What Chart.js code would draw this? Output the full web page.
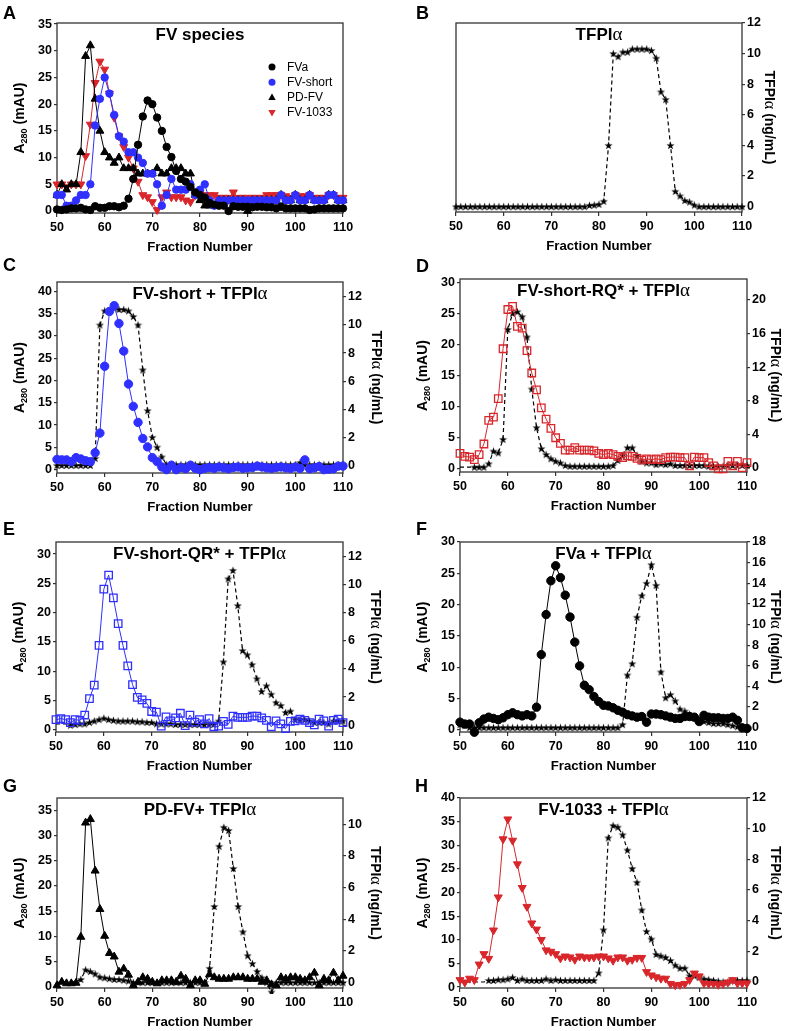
<!DOCTYPE html>
<html>
<head>
<meta charset="utf-8">
<script src="https://cdn.jsdelivr.net/npm/chart.js@4.4.1/dist/chart.umd.min.js"></script>
<style>
  html, body { margin: 0; padding: 0; background: #fff; }
  body { width: 788px; height: 1031px; position: relative; overflow: hidden; }
  .letter { position: absolute; z-index: 10; font: bold 18px 'Liberation Sans', Arial, sans-serif; line-height: 18px; color: #000; }
</style>
</head>
<body>
<div class="letter" style="left:3px;top:4px">A</div>
<div class="letter" style="left:416px;top:4px">B</div>
<div class="letter" style="left:3px;top:256px">C</div>
<div class="letter" style="left:416px;top:257px">D</div>
<div class="letter" style="left:3px;top:520px">E</div>
<div class="letter" style="left:416px;top:520px">F</div>
<div class="letter" style="left:3px;top:777px">G</div>
<div class="letter" style="left:415px;top:777px">H</div>
<script>
// fraction numbers (x categories)
const fractions = [50,51,52,53,54,55,56,57,58,59,60,61,62,63,64,65,66,67,68,69,
  70,71,72,73,74,75,76,77,78,79,80,81,82,83,84,85,86,87,88,89,
  90,91,92,93,94,95,96,97,98,99,100,101,102,103,104,105,106,107,108,109,110];
const xTicks = [50, 60, 70, 80, 90, 100, 110];
const yTicks30 = [0, 5, 10, 15, 20, 25, 30];
const yTicks35 = [0, 5, 10, 15, 20, 25, 30, 35];
const yTicks40 = [0, 5, 10, 15, 20, 25, 30, 35, 40];
const rTicks10 = [0, 2, 4, 6, 8, 10];
const rTicks12 = [0, 2, 4, 6, 8, 10, 12];
const rTicks18 = [0, 2, 4, 6, 8, 10, 12, 14, 16, 18];
const rTicks20 = [0, 4, 8, 12, 16, 20];
const legendLabels = ['FVa', 'FV-short', 'PD-FV', 'FV-1033'];

// A - FV species (A280, mAU)
const aFVa = [0.3,0.2,0.3,0.5,0.5,0.6,0.3,0.2,0.9,0.6,
  0.6,0.9,0.9,0.7,1.0,2.3,6.0,12.4,17.7,20.7,
  20.0,17.5,15.0,12.0,10.1,7.5,6.0,5.5,4.5,3.5,
  3.0,2.5,1.5,1.2,1.0,1.0,0.0,0.9,0.8,0.8,
  0.8,0.7,0.8,0.8,0.7,0.7,0.5,0.8,0.5,0.5,
  0.5,0.5,0.5,0.2,0.3,0.5,0.5,0.5,0.5,0.5, 0.5];
const aShort = [3,3,1,1,2,3,3,5,16,21,
  25,22,18,14,13,11,11,10,9,7,
  7,5,1,3,6,4,4,4,5,3,
  4,5,2,1,2,2,2,2,2,2,
  2,2,2,2,2,2,2,3,2,2,
  3,2,2,3,2,2,2,3,3,2, 2];
const aPD = [3,5,4,5,5,11,29,31,21,15,
  11,10,9,10,8,8,8,7,7,7,
  7,8,7,7,8,8,8,7,7,3,
  2,1,1,1,2,2,2,2,2,2,
  0,2,2,2,2,2,2,3,2,2,
  3,2,2,3,2,2,2,3,3,2, 2];
const a1033 = [5,5,4.5,5,5,5,10.3,16.2,24,28,
  26.5,22,17.5,14,12,10,8,5.5,3,2.6,
  1.7,0.2,2.6,3.5,2.6,2.6,2.6,2,1.7,3,
  3.4,3,3,3,2.5,2.5,2.5,3.5,2.5,2.5,
  2.5,2.5,2.5,2.5,3,3,3,3,2.8,2.5,
  3,2.8,2.8,3,2.5,2.5,2.5,3,3,2.5, 2.5];

// B - TFPIalpha alone (ng/mL)
const bTFPI = [0,0,0,0,0,0,0,0,0,0,
  0,0,0,0,0,0,0,0,0,0,
  0,0,0,0,0,0,0,0,0.08,0.1,
  0.15,0.35,4.0,10.0,9.8,10.1,10.1,10.3,10.3,10.3,
  10.3,10.2,9.7,7.5,7.0,4.0,1.0,0.7,0.4,0.3,
  0.1,0,0,0,0,0,0,0,0,0, 0];

// C - FV-short + TFPIalpha
const cShort = [2.3,2.2,2.2,1.8,2.7,2.4,2.0,1.8,3.8,8.2,
  23.2,35.5,36.8,32.8,26.6,19.2,14.2,10.6,7.0,5.1,
  2.7,1.8,0.6,0.0,1.0,0.0,0.5,0.2,1.0,0.3,
  0.0,0.3,0.5,0.3,0.6,0.4,0.2,0.5,0.6,0.3,
  0.4,0.5,0.8,0.6,0.4,0.3,0.5,0.6,0.4,0.3,
  0.6,0.3,2.2,0.2,0.4,0.7,0.0,0.1,0.2,0.8, 0.8];
const cTFPI = [0,0,0,0,0,0,0,0,0.5,10.0,
  11.0,11.0,11.2,11.1,11.1,11.0,10.6,10.0,6.8,3.9,
  2.0,1.3,0.6,0.05,0.05,0.05,0.05,0.05,0.05,0.05,
  0.05,0.05,0.05,0.05,0.05,0.05,0.05,0.05,0.05,0.05,
  0.05,0.05,0.05,0.05,0.05,0.05,0.05,0.05,0.05,0.05,
  0.05,0.2,0.05,0.05,0.05,0.05,0.05,0.05,0.05,0.05, 0.05];

// D - FV-short-RQ* + TFPIalpha
const dRQ = [2.5,2.0,1.9,1.5,2.3,4.0,7.8,8.3,11.3,19.3,
  25.6,26.1,22.9,22.6,19.0,15.4,12.7,9.8,8.0,6.5,
  5.0,4.1,3.0,3.0,3.4,3.0,3.0,3.0,2.9,2.5,
  2.3,2.5,2.3,2.0,1.8,2.1,2.0,1.7,1.4,1.6,
  1.5,1.6,1.5,1.8,1.9,1.9,1.8,1.8,0.5,1.9,
  1.8,1.8,1.0,0.5,0.0,0.0,1.2,0.5,1.2,0.2, 1.0];
const dTFPI = [0.1,0.1,0.1,0.1,0.1,0.1,0.5,2.0,1.8,3.4,
  16.5,18.4,18.6,18.0,15.6,9.4,4.8,2.3,1.6,1.1,
  0.8,0.6,0.3,0.2,0.2,0.2,0.2,0.2,0.2,0.2,
  0.2,0.2,0.3,0.9,1.5,2.4,2.4,1.5,0.8,0.6,
  0.6,0.4,0.5,0.4,0.5,0.3,0.3,0.3,0.3,0.3,
  0.3,0.3,0.2,0.2,0.2,0.2,0.3,0.3,0.3,0.3, 0.3];

// E - FV-short-QR* + TFPIalpha
const eQR = [1.7,1.9,1.7,1.2,1.7,1.6,2.5,5.3,7.6,14.4,
  24.0,26.4,22.5,18.1,14.4,10.9,7.7,5.5,5.1,4.5,
  3.1,3.0,0.6,2.2,1.5,2.0,2.8,0.7,2.5,1.3,
  1.7,1.0,1.9,0.5,0.6,1.4,0.9,2.3,2.1,2.1,
  2.1,2.3,2.3,2.0,1.6,0.5,1.5,1.0,0.2,1.4,
  1.5,1.8,1.6,1.2,0.8,1.8,1.5,0.6,1.6,1.8, 1.2];
const eTFPI = [0.1,0.1,0.1,0.0,0.05,0.1,0.1,0.2,0.3,0.4,
  0.5,0.4,0.35,0.3,0.3,0.3,0.3,0.25,0.25,0.2,
  0.2,0.1,0.1,0.1,0.1,0.05,0.05,0.05,0.05,0.05,
  0.05,0.05,0.05,0.05,0.3,4.5,10.4,11.0,8.5,5.3,
  5.0,4.3,3.3,2.4,2.8,2.2,1.6,1.4,0.9,1.0,
  0.4,0.4,0.4,0.3,0.2,0.2,0.2,0.1,0.3,0.3, 0.3];

// F - FVa + TFPIalpha
const fFVa = [1.2,0.9,0.9,-0.4,1.1,1.7,2.0,1.8,1.6,1.9,
  2.4,2.7,2.4,2.2,2.4,2.2,3.6,12.0,18.4,23.8,
  26.2,24.3,21.5,18.0,14.0,10.2,7.1,6.4,5.3,4.5,
  3.9,3.8,3.5,3.1,2.8,2.4,2.2,2.0,2.1,1.2,
  2.5,2.5,2.4,2.2,2.0,1.8,1.8,2.1,2.1,2.0,
  1.3,2.3,2.0,1.9,1.9,1.8,1.8,2.0,1.5,0.3, 0.2];
const fTFPI = [0.3,0.2,0,0,0,0,0,0,0,0,
  0,0,0,0,0,0,0,0,0,0,
  0,0,0,0,0,0,0,0,0,0,
  0,0,0,0,0.3,5.1,6.2,10.7,12.8,14.0,
  15.8,13.8,5.4,2.9,3.2,2.6,1.8,1.6,1.3,1.0,
  0.8,0.6,0.5,0.4,0.4,0.4,0.3,0.2,0.1,0, 0];

// G - PD-FV + TFPIalpha
const gPD = [0.3,1.0,0.7,0.7,0.8,9.9,32.5,33.2,23.0,15.4,
  10.1,6.7,6.0,3.0,3.6,2.4,0.3,1.0,1.9,1.6,
  1.0,0.7,1.3,1.3,1.3,1.0,2.2,1.6,0.3,1.3,
  1.3,0.6,2.5,1.9,1.6,1.6,1.6,1.9,1.9,1.9,
  1.6,1.6,1.6,1.0,1.3,0.5,0.3,1.9,1.6,1.9,
  1.9,1.6,1.3,1.9,2.8,0.3,1.6,1.3,2.8,1.3, 2.2];
const gTFPI = [0,0.05,0.05,0.05,0.05,0.2,0.8,0.7,0.55,0.35,
  0.3,0.25,0.2,0.2,0.15,0.1,0,0,0,0,
  0,0,0,0,0,0,0,0,0,0,
  0,0,0.9,4.8,8.6,9.8,9.6,7.2,4.8,3.2,
  1.7,1.2,0.7,0.3,0,-0.6,0,0,0,0,
  0,0,0,0,0,0,0,0,0,0, 0];

// H - FV-1033 + TFPIalpha
const h1033 = [1.5,1.0,1.8,1.5,4.8,7.0,6.0,12.0,19.0,31.3,
  35.5,31.0,26.0,21.0,17.0,13.5,12.2,10.0,7.8,7.5,
  7.0,6.1,6.5,6.3,5.8,6.5,6.3,6.3,6.3,6.5,
  6.5,6.1,5.6,6.3,6.3,5.6,5.8,6.2,6.2,3.2,
  2.5,2.1,1.8,1.8,0.7,0.4,0.5,0.7,1.5,2.9,
  2.3,0.8,0.7,0.7,0.5,0.7,1.0,1.5,0.8,0.8, 0.8];
const hTFPI = [0,0,0,0,0,0,0.1,0.1,0.15,0.15,
  0.2,0.3,0.1,0.2,0.1,0.1,0.1,0.1,0.2,0.1,
  0.15,0.1,0.1,0.1,0.1,0.1,0.1,0.1,0.1,0.6,
  3.4,9.4,10.2,10.1,9.6,8.6,7.4,6.5,4.7,3.3,
  2.8,1.8,1.7,1.6,1.4,1.1,0.9,0.9,0.4,0.4,
  0.3,0.2,0.15,0.1,0.05,0,0,0.1,0.1,0.1, 0.1];

const SANS = "'Liberation Sans', Arial, sans-serif";
const SERIF = "'Liberation Serif', 'DejaVu Serif', serif";
const TICK_FONT = { family: SANS, size: 12.5, weight: 'bold' };
const BLUE = '#2f2fff', RED = '#d8262b', INK = '#333';
const bold = s => `bold ${s}px ${SANS}`;
const greek = s => `${s}px ${SERIF}`;

function tfpiText(size) { return [{ t: 'TFPI', f: bold(size) }, { t: 'α', f: greek(size + 2) }]; }
function title(prefix) { return [{ t: prefix + 'TFPI', f: bold(17) }, { t: 'α', f: greek(19) }]; }
const yLeftTitle = [{ t: 'A', f: bold(14) }, { t: '280', f: bold(9), dy: 3 }, { t: ' (mAU)', f: bold(14) }];
const yRightTitle = [...tfpiText(14), { t: ' (ng/mL)', f: bold(14) }];

// filled five point star used for the TFPI markers
const STAR = (function () {
  const c = document.createElement('canvas');
  c.width = 9; c.height = 9;
  const g = c.getContext('2d');
  g.beginPath();
  for (let i = 0; i < 10; i++) {
    const r = i % 2 ? 1.7 : 4.3;
    const ang = -Math.PI / 2 + i * Math.PI / 5;
    g.lineTo(4.5 + r * Math.cos(ang), 4.8 + r * Math.sin(ang));
  }
  g.closePath();
  g.fillStyle = '#000';
  g.fill();
  return c;
})();

function drawRich(ctx, parts, x, y, rot) {
  ctx.save();
  ctx.translate(x, y);
  ctx.rotate(rot);
  ctx.fillStyle = '#000';
  ctx.textBaseline = 'alphabetic';
  ctx.textAlign = 'left';
  let w = 0;
  parts.forEach(p => { ctx.font = p.f; w += ctx.measureText(p.t).width; });
  let cx = -w / 2;
  parts.forEach(p => {
    ctx.font = p.f;
    ctx.fillText(p.t, cx, p.dy || 0);
    cx += ctx.measureText(p.t).width;
  });
  ctx.restore();
}

function marker(ctx, kind, x, y, color) {
  ctx.fillStyle = color;
  ctx.beginPath();
  if (kind === 'circle') ctx.arc(x, y, 3.5, 0, Math.PI * 2);
  else if (kind === 'tri') { ctx.moveTo(x, y - 4); ctx.lineTo(x + 3.7, y + 2.5); ctx.lineTo(x - 3.7, y + 2.5); }
  else { ctx.moveTo(x, y + 4); ctx.lineTo(x + 3.7, y - 2.5); ctx.lineTo(x - 3.7, y - 2.5); }
  ctx.closePath();
  ctx.fill();
}

const info = new Map();

const framePlugin = {
  id: 'frame',
  beforeDatasetsDraw(chart) {
    const { ctx, chartArea: a } = chart;
    ctx.save();
    ctx.strokeStyle = INK;
    ctx.lineWidth = 1.3;
    ctx.strokeRect(a.left, a.top, a.right - a.left, a.bottom - a.top);
    ctx.restore();
  },
  afterDraw(chart) {
    const p = info.get(chart.canvas);
    const { ctx, chartArea: a } = chart;
    const cx = (a.left + a.right) / 2, cy = (a.top + a.bottom) / 2;
    drawRich(ctx, p.title, cx, a.top + 17, 0);
    drawRich(ctx, [{ t: 'Fraction Number', f: bold(13.2) }], cx, a.bottom + 38, 0);
    if (p.yL) drawRich(ctx, yLeftTitle, a.left - 33, cy, -Math.PI / 2);
    if (p.yR) drawRich(ctx, yRightTitle, a.right + p.rOff, cy, Math.PI / 2);
    if (p.legend) {
      const kinds = [['circle', '#000'], ['circle', BLUE], ['tri', '#000'], ['tridown', RED]];
      ctx.save();
      ctx.font = `12px ${SANS}`;
      ctx.textBaseline = 'middle';
      legendLabels.forEach((lab, i) => {
        const y = a.top + 44 + i * 15.2;
        marker(ctx, kinds[i][0], a.left + 215, y, kinds[i][1]);
        ctx.fillStyle = '#000';
        ctx.fillText(lab, a.left + 230, y + 0.5);
      });
      ctx.restore();
    }
  }
};

function fv(data, color, kind) {
  const d = {
    data, yAxisID: 'y', borderColor: color, borderWidth: 1, tension: 0, fill: false, clip: 6,
    pointBackgroundColor: color, pointBorderColor: color, pointBorderWidth: 1
  };
  if (kind === 'circle') Object.assign(d, { pointStyle: 'circle', pointRadius: 3.7 });
  if (kind === 'bigcircle') Object.assign(d, { pointStyle: 'circle', pointRadius: 4.2 });
  if (kind === 'tri') Object.assign(d, { pointStyle: 'triangle', pointRadius: 4.6 });
  if (kind === 'tridown') Object.assign(d, { pointStyle: 'triangle', pointRadius: 4.6, pointRotation: 180 });
  if (kind === 'square') Object.assign(d, { pointStyle: 'rect', pointRadius: 5.3, pointBackgroundColor: 'rgba(255,255,255,0)', pointBorderWidth: 1.3 });
  return d;
}

// dashed TFPI trace; markers only from the fraction where the stars begin
function tfpi(data, firstStar) {
  const from = firstStar || 50;
  return {
    data, yAxisID: 'y2', borderColor: '#000', borderWidth: 1.2, borderDash: [4, 3], tension: 0, fill: false, clip: 6,
    pointStyle: STAR,
    pointRadius: ctx => (fractions[ctx.dataIndex] < from ? 0 : 4)
  };
}

function yScale(pos, ax, w) {
  return {
    type: 'linear', position: pos, min: ax.min, max: ax.max,
    afterBuildTicks: s => { s.ticks = ax.ticks.map(v => ({ value: v })); },
    afterFit: s => { s.width = w; },
    grid: { display: true, drawOnChartArea: false, drawTicks: true, tickLength: 3, color: INK, lineWidth: 1.2 },
    border: { display: false },
    ticks: { font: TICK_FONT, color: '#000', padding: 2 }
  };
}

function xScale() {
  return {
    type: 'linear', min: 50, max: 110,
    afterBuildTicks: s => { s.ticks = xTicks.map(v => ({ value: v })); },
    afterFit: s => { s.height = 46; },
    grid: { display: true, drawOnChartArea: false, drawTicks: true, tickLength: 4, color: INK, lineWidth: 1.2 },
    border: { display: false },
    ticks: { font: TICK_FONT, color: '#000', padding: 3, maxRotation: 0, autoSkip: false }
  };
}

const panels = [
  { box: { l: 57, r: 343, t: 23, b: 213 }, title: [{ t: 'FV species', f: bold(17) }], legend: true,
    yL: { min: -0.37, max: 35.2, ticks: yTicks35 },
    sets: [fv(aFVa, '#000', 'circle'), fv(aShort, BLUE, 'circle'), fv(aPD, '#000', 'tri'), fv(a1033, RED, 'tridown')] },
  { box: { l: 456, r: 742, t: 23, b: 212 }, title: [{ t: 'TFPI', f: bold(17) }, { t: 'α', f: greek(19) }],
    yR: { min: -0.35, max: 12, ticks: rTicks12 }, rOff: 23,
    sets: [tfpi(bTFPI)] },
  { box: { l: 57, r: 343, t: 282, b: 473 }, title: title('FV-short + '),
    yL: { min: -0.75, max: 42.1, ticks: yTicks40 }, yR: { min: -0.54, max: 13.06, ticks: rTicks12 }, rOff: 29,
    sets: [fv(cShort, BLUE, 'bigcircle'), tfpi(cTFPI)] },
  { box: { l: 460, r: 747, t: 279, b: 472 }, title: title('FV-short-RQ* + '),
    yL: { min: -0.5, max: 30.5, ticks: yTicks30 }, yR: { min: -0.48, max: 22.5, ticks: rTicks20 }, rOff: 24,
    sets: [fv(dRQ, RED, 'square'), tfpi(dTFPI, 53)] },
  { box: { l: 56, r: 343, t: 542, b: 732 }, title: title('FV-short-QR* + '),
    yL: { min: -0.4, max: 32.06, ticks: yTicks30 }, yR: { min: -0.48, max: 13.02, ticks: rTicks12 }, rOff: 28,
    sets: [fv(eQR, BLUE, 'square'), tfpi(eTFPI, 53)] },
  { box: { l: 460, r: 747, t: 542, b: 732 }, title: title('FVa + '),
    yL: { min: -0.37, max: 30, ticks: yTicks30 }, yR: { min: -0.42, max: 18, ticks: rTicks18 }, rOff: 24,
    sets: [fv(fFVa, '#000', 'bigcircle'), tfpi(fTFPI)] },
  { box: { l: 57, r: 343, t: 798, b: 988 }, title: title('PD-FV+ '),
    yL: { min: -0.2, max: 37.4, ticks: yTicks35 }, yR: { min: -0.34, max: 11.65, ticks: rTicks10 }, rOff: 28,
    sets: [fv(gPD, '#000', 'tri'), tfpi(gTFPI, 55)] },
  { box: { l: 460, r: 747, t: 798, b: 988 }, title: title('FV-1033 + '),
    yL: { min: -0.2, max: 40, ticks: yTicks40 }, yR: { min: -0.39, max: 12, ticks: rTicks12 }, rOff: 24,
    sets: [fv(h1033, RED, 'tridown'), tfpi(hTFPI, 56)] }
];

panels.forEach(p => {
  const cellX = p.box.l < 394 ? 0 : 394;
  const top = p.box.t - 25;
  const h = p.box.b - p.box.t + 25 + 46;
  const cv = document.createElement('canvas');
  cv.width = 394;
  cv.height = h;
  cv.style.cssText = `position:absolute;left:${cellX}px;top:${top}px;width:394px;height:${h}px;`;
  document.body.appendChild(cv);
  info.set(cv, p);
  const scales = { x: xScale() };
  if (p.yL) scales.y = yScale('left', p.yL, p.box.l - cellX);
  if (p.yR) scales.y2 = yScale('right', p.yR, cellX + 394 - p.box.r);
  new Chart(cv, {
    type: 'line',
    data: { labels: fractions, datasets: p.sets },
    options: {
      responsive: false, animation: false, devicePixelRatio: 1, events: [],
      layout: { padding: { top: 25, bottom: 0, left: p.yL ? 0 : p.box.l - cellX, right: p.yR ? 0 : cellX + 394 - p.box.r } },
      scales,
      plugins: { legend: { display: false }, tooltip: { enabled: false } }
    },
    plugins: [framePlugin]
  });
});
</script>
</body>
</html>
